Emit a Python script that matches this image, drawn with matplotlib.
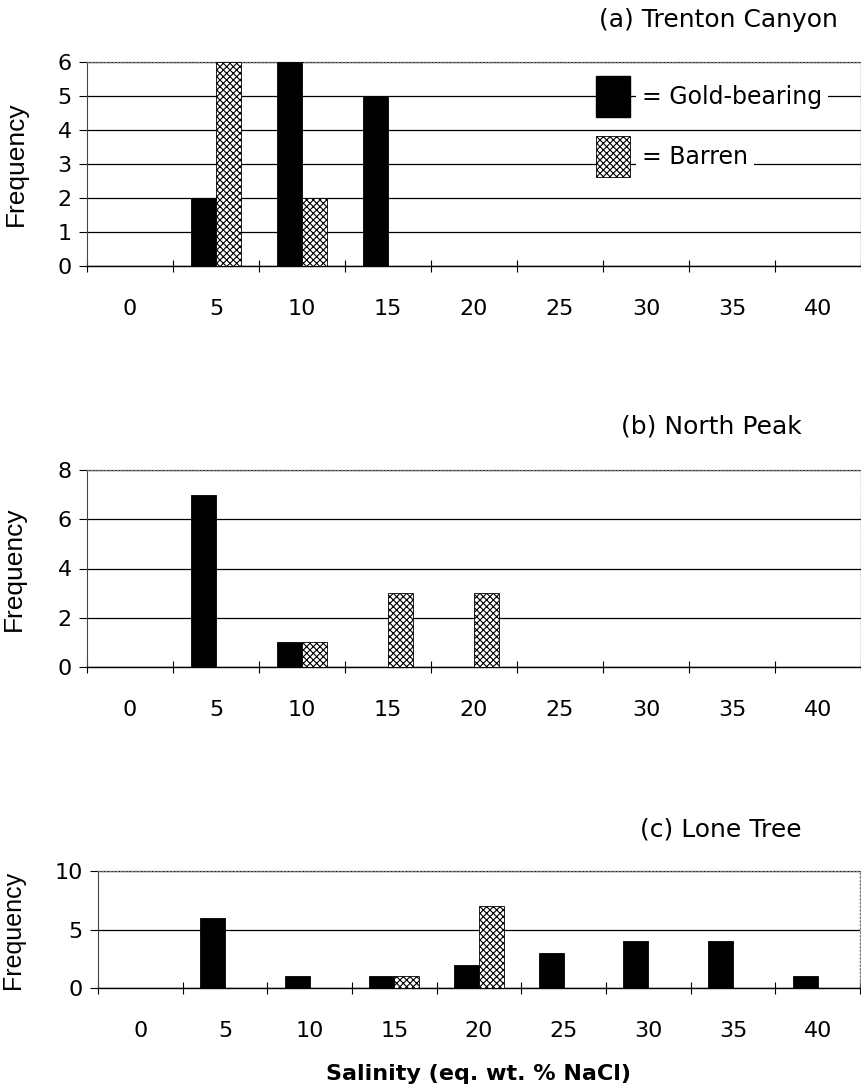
import numpy as np
import matplotlib
matplotlib.use("Agg")
import matplotlib.pyplot as plt
from matplotlib.patches import Patch

# salinity classes (eq. wt. % NaCl)
cats = ['0', '5', '10', '15', '20', '25', '30', '35', '40']

# (a) Trenton Canyon
a_gold = [0, 2, 6, 5, 0, 0, 0, 0, 0]
a_barren = [0, 6, 2, 0, 0, 0, 0, 0, 0]
# (b) North Peak
b_gold = [0, 7, 1, 0, 0, 0, 0, 0, 0]
b_barren = [0, 0, 1, 3, 3, 0, 0, 0, 0]
# (c) Lone Tree
c_gold = [0, 6, 1, 1, 2, 3, 4, 4, 1]
c_barren = [0, 0, 0, 1, 7, 0, 0, 0, 0]

titles = ['(a) Trenton Canyon', '(b) North Peak', '(c) Lone Tree']
ymax = [6, 8, 10]
ysteps = [1, 2, 5]

font = 'DejaVu Sans'
plt.rcParams['hatch.linewidth'] = 0.8

W, H = 861, 1091
fig = plt.figure(figsize=(W / 100, H / 100), dpi=100)

# axes boxes in pixels: left, top, right, bottom
boxes = [(87, 62, 861, 266), (87, 470, 861, 667), (98, 871, 860, 988)]
title_pos = [(838, 20), (802, 427), (802, 830)]
ylab_x = [28, 26, 25]
ylab_size = [19, 19, 18]

golds = [a_gold, b_gold, c_gold]
barrens = [a_barren, b_barren, c_barren]

x = np.arange(len(cats))
w = 0.295
hatch = 'xxxxx'

for k in range(3):
    l, t, r, b = boxes[k]
    ax = fig.add_axes([l / W, 1 - b / H, (r - l) / W, (b - t) / H])
    ax.bar(x - w / 2, golds[k], w, color='black', edgecolor='black', lw=0.6, zorder=3)
    ax.bar(x + w / 2, barrens[k], w, color='white', edgecolor='black', lw=0.6,
           hatch=hatch, zorder=3)
    ax.set_xlim(-0.5, len(cats) - 0.5)
    ax.set_ylim(0, ymax[k])
    ax.set_yticks(np.arange(0, ymax[k] + 1, ysteps[k]))
    ax.yaxis.grid(True, color='black', lw=0.9, zorder=0)
    ax.set_axisbelow(True)

    ax.set_xticks(x)
    ax.set_xticklabels(cats, family=font, fontsize=16)
    ax.set_xticks(np.arange(-0.5, len(cats), 1), minor=True)
    ax.tick_params(axis='x', which='major', length=0, pad=24)
    ax.tick_params(axis='x', which='minor', direction='inout', length=9, width=0.8)
    ax.tick_params(axis='y', direction='out', length=6, width=0.8, pad=5, labelsize=16)

    for s in ['top', 'right']:
        ax.spines[s].set_color('#777777')
        ax.spines[s].set_linestyle(':')
        ax.spines[s].set_linewidth(1.0)
    ax.spines['left'].set_color('#444444')
    ax.spines['left'].set_linewidth(0.8)
    ax.spines['bottom'].set_linewidth(1.0)

    ax.set_ylabel('Frequency', family='Liberation Sans', fontsize=ylab_size[k])
    ax.yaxis.set_label_coords(ylab_x[k] / W, 1 - ((t + b) / 2) / H, transform=fig.transFigure)

    tx, ty = title_pos[k]
    fig.text(tx / W, 1 - ty / H, titles[k], ha='right', va='center', family=font, fontsize=18)

    if k == 0:
        handles = [Patch(facecolor='black', edgecolor='black'),
                   Patch(facecolor='white', edgecolor='black', hatch=hatch, lw=0.6)]
        leg = ax.legend(handles, ['= Gold-bearing', '= Barren'], loc='upper left',
                        bbox_to_anchor=(596 / W, 1 - 76 / H), bbox_transform=fig.transFigure,
                        frameon=False, borderpad=0, borderaxespad=0,
                        handlelength=1.45, handleheight=2.3, handletextpad=0.5,
                        labelspacing=0.8, prop={'family': font, 'size': 17})
        leg.set_zorder(5)
        for txt in leg.get_texts():
            txt.set_bbox(dict(facecolor='white', edgecolor='none', pad=4))

    if k == 2:
        ax.set_xlabel('Salinity (eq. wt. % NaCl)', family=font, fontsize=16,
                      fontweight='bold', labelpad=16)

fig.savefig('out.png', dpi=100)
